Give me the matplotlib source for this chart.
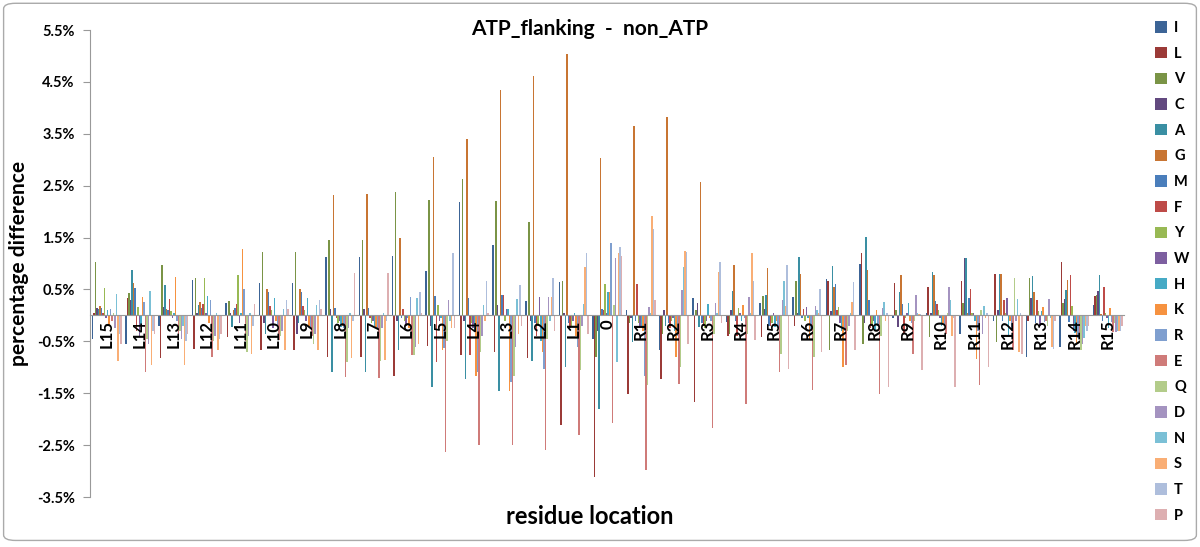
import numpy as np
import matplotlib.pyplot as plt
from matplotlib.patches import FancyBboxPatch, Patch

positions = ["L15", "L14", "L13", "L12", "L11", "L10", "L9", "L8", "L7", "L6",
             "L5", "L4", "L3", "L2", "L1", "0",
             "R1", "R2", "R3", "R4", "R5", "R6", "R7", "R8", "R9", "R10",
             "R11", "R12", "R13", "R14", "R15"]

residues = ["I", "L", "V", "C", "A", "G", "M", "F", "Y", "W",
            "H", "K", "R", "E", "Q", "D", "N", "S", "T", "P"]

colors = ["#3c6496", "#9b3a37", "#7a9446", "#62497f", "#3a8fa3", "#c87533",
          "#4a7ebb", "#be4b48", "#98b954", "#7d5fa0", "#46aac5", "#f69240",
          "#7f9fcf", "#cf7b79", "#b3cc8a", "#a493c0", "#7bc0d6", "#f9ae75",
          "#aebedc", "#ddafb1"]

# percentage difference, one list per residue, L15 .. 0 .. R15
I = [-0.45, -0.55, -0.20, 0.69, 0.24, 0.62, 0.62, 1.12, 1.12, 1.14, 0.85, 2.18, 1.36, 0.27, 0.64, -0.45,
     0.10, -0.67, 0.34, -0.13, 0.24, 0.35, 0.71, 1.00, -0.05, 0.05, -0.35, -0.10, -0.80, -0.61, 0.21]
L = [0.05, 0.33, -0.83, -0.64, -0.42, -0.67, -0.67, -0.80, -0.80, -1.16, -0.58, -0.77, -0.71, -0.82, -2.12, -3.12,
     -1.51, -1.22, -1.67, -0.39, -0.42, -0.20, 0.66, 1.20, 0.63, 0.55, 0.67, 0.79, -0.10, 1.03, 0.37]
V = [1.03, 0.43, 0.98, 0.73, 0.28, 1.22, 1.22, 1.46, 1.45, 2.38, 2.23, 2.63, 2.21, 1.80, 0.67, -0.80,
     -0.15, -0.35, 0.11, -0.35, 0.37, 0.66, -0.67, -0.55, 0.10, -0.42, 0.24, -0.51, 0.72, 0.24, 0.39]
C = [0.15, 0.30, 0.16, 0.05, 0.05, -0.15, -0.35, 0.12, 0.12, -0.10, -0.20, -0.10, 0.20, -0.10, 0.05, -0.30,
     -0.05, 0.11, 0.24, 0.10, 0.13, 0.05, 0.08, -0.15, -0.22, 0.05, 1.10, 0.10, 0.33, 0.32, 0.47]
A = [0.12, 0.87, 0.59, 0.21, -0.22, -0.35, -0.15, -1.09, -1.10, -0.67, -1.38, -1.22, -1.45, -0.87, -1.00, -1.80,
     -0.51, -0.20, -0.22, 0.47, 0.40, 1.12, 0.95, 1.52, 0.45, 0.83, 1.10, 0.79, 0.76, 0.49, 0.78]
G = [0.18, 0.62, 0.12, 0.25, 0.10, 0.51, 0.51, 2.33, 2.34, 1.49, 3.06, 3.40, 4.35, 4.62, 5.04, 3.04,
     3.66, 3.82, 2.58, 0.98, 0.91, 0.80, 0.55, 0.87, 0.77, 0.77, 0.05, 0.80, 0.45, 0.69, 0.02]
M = [0.15, 0.53, 0.10, 0.15, 0.15, 0.45, 0.45, 0.15, 0.15, -0.05, 0.37, 0.34, 0.39, -0.15, -0.15, 0.13,
     -0.10, -0.15, -0.15, -0.10, -0.20, -0.05, 0.61, 0.29, 0.22, 0.28, 0.33, -0.10, -0.15, -0.12, -0.10]
F = [0.05, -0.30, 0.32, 0.22, 0.22, 0.18, 0.18, -0.05, -0.05, 0.13, -0.90, -0.77, 0.39, -0.40, -0.25, 0.10,
     0.61, -0.25, -0.20, -0.39, -0.20, 0.13, 0.10, -0.25, -0.35, 0.22, 0.51, 0.29, 0.29, 0.77, 0.55]
Y = [0.53, 0.16, 0.08, 0.72, 0.77, 0.10, 0.10, -0.15, -0.15, -0.10, 0.20, -0.15, -0.10, -0.20, -0.20, 0.61,
     -0.15, -0.10, -0.25, 0.15, -0.15, -0.10, 0.16, -0.20, -0.05, 0.10, 0.05, 0.05, 0.08, 0.19, 0.05]
W = [-0.05, -0.40, -0.05, 0.05, -0.15, -0.25, -0.10, -0.10, -0.10, -0.20, -0.10, -0.25, 0.12, 0.35, -0.10, 0.05,
     -0.20, -0.05, -0.10, 0.05, 0.05, 0.16, -0.15, -0.10, 0.05, -0.05, 0.05, 0.34, -0.20, -0.30, -0.05]
H = [0.10, -0.20, 0.05, 0.38, 0.05, 0.34, 0.34, -0.22, -0.20, -0.05, -0.05, -0.30, 0.13, -0.50, 0.05, 0.46,
     -0.25, -0.30, 0.22, -0.10, -0.22, -0.05, -0.30, -0.30, 0.24, -0.20, -0.10, -0.40, 0.08, -0.33, -0.25]
K = [-0.20, 0.35, 0.74, -0.15, 1.28, -0.10, -0.20, -0.20, -0.22, -0.25, -0.67, -1.17, -1.45, -0.70, -0.40, 0.45,
     -0.30, -0.80, -0.05, 0.21, -0.10, -0.45, -1.00, 0.11, -0.10, -0.15, -0.84, -0.10, 0.16, -0.55, 0.15]
R = [0.12, 0.26, -0.10, 0.29, 0.51, -0.20, -0.25, -0.25, -0.25, 0.35, -0.62, -1.10, -1.28, -1.03, -0.60, 1.40,
     -1.17, -0.40, -0.10, -0.05, -0.25, -0.30, -0.30, -0.20, -0.15, -0.20, -0.30, -0.30, -0.12, -0.43, -0.12]
E = [-0.10, -1.09, -0.35, -0.80, -0.50, -0.48, -0.40, -1.19, -1.20, -0.77, -2.63, -2.50, -2.50, -2.60, -2.31, -2.07,
     -2.98, -1.33, -2.17, -1.70, -1.09, -1.43, -0.96, -1.51, -0.74, -0.35, -1.35, -0.67, -0.10, -0.33, -0.32]
Q = [0.05, -0.45, -0.30, -0.50, -0.70, -0.40, -0.55, -0.90, -0.88, -0.77, -0.50, -0.70, -1.16, -0.45, -1.06, 0.20,
     -1.35, -1.00, -0.35, -0.35, -0.74, -0.80, -0.30, -0.40, -0.10, 0.05, 0.11, 0.72, -0.20, -0.67, -0.15]
D = [-0.25, -0.55, -0.45, -0.40, -0.40, -0.30, -0.35, -0.25, -0.25, -0.60, 0.30, -0.40, -0.60, 0.35, -0.20, 1.11,
     0.17, 0.49, 0.24, 0.35, 0.29, 0.18, -0.20, 0.15, 0.39, 0.55, -0.35, -0.10, 0.31, -0.55, -0.32]
N = [0.42, 0.48, -0.20, 0.05, 0.05, 0.13, 0.20, 0.05, 0.05, 0.34, -0.10, 0.20, 0.32, -0.10, 0.22, -0.90,
     0.05, 0.94, 0.05, 0.05, 0.67, 0.10, 0.05, 0.26, 0.05, 0.29, 0.18, 0.32, -0.05, -0.43, -0.30]
S = [-0.87, -0.96, -0.95, -0.67, -0.75, -0.67, -0.67, -0.83, -0.85, -0.55, -0.25, -0.10, -0.35, 0.35, 0.94, 1.20,
     1.91, 1.25, 0.83, 1.21, 0.19, 0.05, 0.26, -0.10, 0.03, -0.40, -0.05, -0.71, -0.61, -0.20, -0.30]
T = [-0.35, -0.30, -0.50, -0.45, -0.20, 0.29, 0.29, -0.10, -0.10, 0.45, 1.20, 0.67, 0.58, 0.73, 1.21, 1.32,
     1.66, 1.22, 1.03, 0.67, 0.98, 0.51, 0.64, 0.05, 0.02, -0.05, 0.05, 0.05, -0.64, -0.30, -0.30]
P = [-0.55, -0.35, -0.35, -0.35, 0.22, 0.13, 0.13, 0.82, 0.82, 0.05, -0.25, 0.05, -0.20, -0.30, -0.35, 1.15,
     0.29, -0.55, -0.15, -0.48, -1.03, -0.71, -0.67, -1.38, -1.06, -1.38, -1.00, -0.74, -0.10, -0.20, -0.20]

series = [I, L, V, C, A, G, M, F, Y, W, H, K, R, E, Q, D, N, S, T, P]

plt.rcParams['font.family'] = ['Lato', 'DejaVu Sans']

fig = plt.figure(figsize=(12, 5.47), dpi=100)
ax = fig.add_axes([0.075, 0.0914, 0.862, 0.8536])

x = np.arange(len(positions))
width = 0.045
for k, (vals, col) in enumerate(zip(series, colors)):
    ax.bar(x + (k - 9.5) * width, vals, width, color=col, linewidth=0)

ax.set_xlim(-0.5, len(positions) - 0.5)
ax.set_ylim(-3.5, 5.5)
yt = np.arange(-3.5, 5.6, 1.0)
ax.set_yticks(yt)
ax.set_yticklabels([f"{v:.1f}%" for v in yt], fontsize=10.5, fontweight='bold')

# category axis sits on the zero line, labels hang below it
ax.spines['bottom'].set_position(('data', 0))
ax.spines['bottom'].set_color('#999999')
ax.spines['left'].set_color('#999999')
ax.spines['top'].set_visible(False)
ax.spines['right'].set_visible(False)
ax.set_xticks(x)
ax.set_xticklabels(positions, rotation=90, fontsize=12, fontweight='bold')
ax.tick_params(axis='x', length=0, pad=3)
ax.tick_params(axis='y', length=5, color='#999999', direction='out', pad=6)

fig.text(590 / 1200, 1 - 29 / 547, "ATP_flanking  -  non_ATP", ha='center', va='center',
         fontsize=15, fontweight='bold')
fig.text(590 / 1200, 1 - 516 / 547, "residue location", ha='center', va='center',
         fontsize=17, fontweight='bold')
fig.text(19 / 1200, 1 - 263 / 547, "percentage difference", ha='center', va='center',
         rotation=90, fontsize=15, fontweight='bold')

handles = [Patch(facecolor=c, edgecolor='none') for c in colors]
fig.legend(handles, residues, loc='upper left', bbox_to_anchor=(1142 / 1200, 1 - 8 / 547),
           frameon=False, prop={'size': 10.5, 'weight': 'bold'},
           handlelength=0.8, handleheight=0.8, handletextpad=0.5, labelspacing=0.8)

# outer chart border like the spreadsheet chart area
border = FancyBboxPatch((0.003, 0.012), 0.994, 0.982, boxstyle="round,pad=0,rounding_size=0.01",
                        transform=fig.transFigure, fill=False, edgecolor='#aaaaaa', linewidth=1)
fig.patches.append(border)

fig.savefig("out.png", dpi=100)
